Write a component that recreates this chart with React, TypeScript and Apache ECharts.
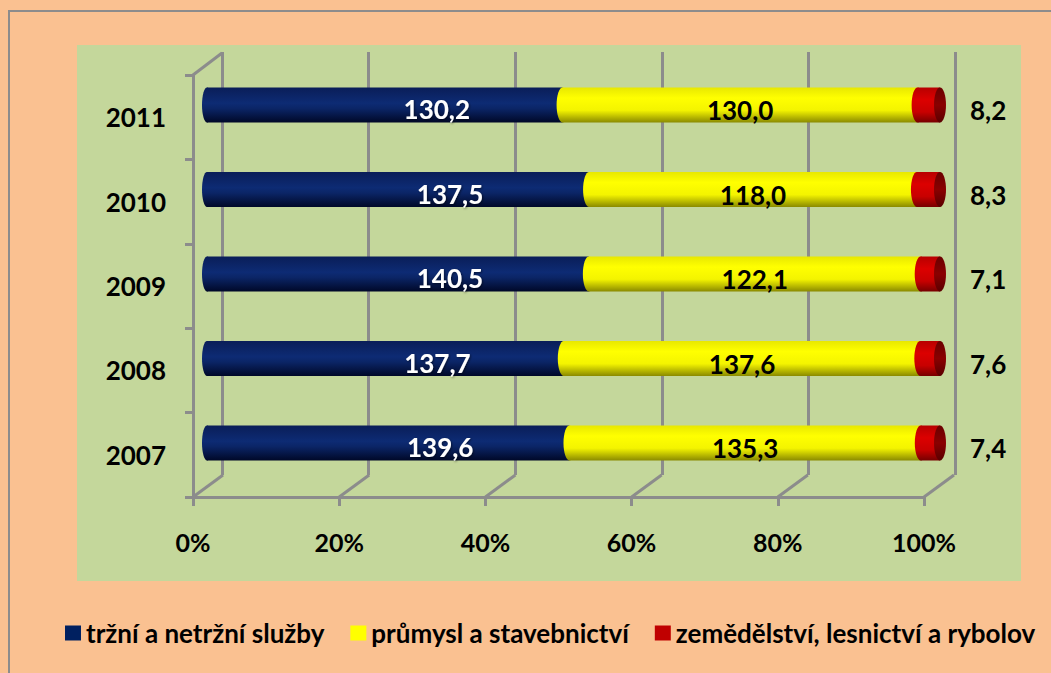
import React, { useEffect, useRef } from "react";
import * as echarts from "echarts";

const categories = ["2007", "2008", "2009", "2010", "2011"];
const services = [139.6, 137.7, 140.5, 137.5, 130.2];
const industry = [135.3, 137.6, 122.1, 118.0, 130.0];
const agriculture = [7.4, 7.6, 7.1, 8.3, 8.2];
const xTicks = [0, 20, 40, 60, 80, 100];
const seriesNames = ["tržní a netržní služby", "průmysl a stavebnictví", "zemědělství, lesnictví a rybolov"];

const totals = categories.map((_, i) => services[i] + industry[i] + agriculture[i]);
const pct = (arr: number[]) => arr.map((v, i) => (v / totals[i]) * 100);
const servicesPct = pct(services);
const industryPct = pct(industry);
const agriculturePct = pct(agriculture);

const fmt = (v: number) => v.toFixed(1).replace(".", ",");
const FONT = "Lato";
const GRID_COLOR = "#8c8c8c";

const grad = (stops: [number, string][]) =>
  new echarts.graphic.LinearGradient(0, 0, 0, 1, stops.map(([offset, color]) => ({ offset, color })));

const blueGrad = () => grad([[0, "#0a1e58"], [0.45, "#0d2b74"], [0.6, "#0b2566"], [1, "#000828"]]);
const yellowGrad = () => grad([[0, "#e8e800"], [0.3, "#ffff00"], [0.65, "#f4f400"], [1, "#8a8a00"]]);
const redGrad = () => grad([[0, "#b80000"], [0.35, "#dc0000"], [0.7, "#c80000"], [1, "#760000"]]);
const capGrad = () => grad([[0, "#6a0000"], [0.5, "#8a0000"], [1, "#5a0000"]]);

export default function App() {
  const ref = useRef<HTMLDivElement>(null);
  useEffect(() => {
    if (!ref.current) return;
    const chart = echarts.init(ref.current, undefined, { renderer: "svg" });
    const BAR_H = 35;
    const option: any = {
      animation: false,
      backgroundColor: "#fac191",
      textStyle: { fontFamily: FONT },
      color: ["#002060", "#ffff00", "#c00000"],
      graphic: [
        { type: "rect", shape: { x: 9, y: 11, width: 1060, height: 680 }, style: { fill: "none", stroke: "#8c8c8c", lineWidth: 2 }, z: 100 },
        { type: "rect", shape: { x: 77, y: 45, width: 944, height: 536 }, style: { fill: "#c4d79b" }, z: -10 },
      ],
      legend: {
        left: 60,
        top: 615,
        icon: "rect",
        itemWidth: 16,
        itemHeight: 15,
        itemGap: 26,
        textStyle: { fontFamily: FONT, fontWeight: "bold", fontSize: 26, color: "#000" },
        data: seriesNames.map((name, i) => ({
          name,
          itemStyle: { color: ["#002060", "#ffff00", "#c00000"][i] },
        })),
      },
      grid: [
        { left: 222, top: 52, width: 733, height: 423 },
        { left: 193, top: 75, width: 731, height: 422 },
        { left: 207, top: 62.75, width: 733, height: 422.5 },
      ],
      xAxis: [
        {
          gridIndex: 0, type: "value", min: 0, max: 100, interval: 20,
          axisLine: { show: false }, axisTick: { show: false }, axisLabel: { show: false },
          splitLine: { show: true, lineStyle: { color: GRID_COLOR, width: 3 } },
        },
        {
          gridIndex: 1, type: "value", min: 0, max: 100, interval: 20,
          axisLine: { show: true, lineStyle: { color: GRID_COLOR, width: 3 } },
          axisTick: { show: true, length: 9, lineStyle: { color: GRID_COLOR, width: 3 } },
          axisLabel: { formatter: "{value}%", margin: 32, fontFamily: FONT, fontWeight: "bold", fontSize: 25, color: "#000" },
          splitLine: { show: false },
        },
        {
          gridIndex: 2, type: "value", min: 0, max: 100, show: false,
        },
      ],
      yAxis: [
        { gridIndex: 0, type: "category", data: categories, show: false },
        {
          gridIndex: 1, type: "category", data: categories,
          axisLine: { show: true, lineStyle: { color: GRID_COLOR, width: 3 } },
          axisTick: { show: true, length: 8, lineStyle: { color: GRID_COLOR, width: 3 } },
          axisLabel: { margin: 27, fontFamily: FONT, fontWeight: "bold", fontSize: 26, color: "#000" },
        },
        { gridIndex: 2, type: "category", data: categories, show: false },
      ],
      series: [
        {
          type: "custom",
          xAxisIndex: 1,
          yAxisIndex: 1,
          silent: true,
          z: 1,
          data: xTicks.map((v) => [v, 0]),
          encode: { x: 0, y: 1 },
          renderItem: (params: any, api: any) => {
            const v = api.value(0);
            const p = api.coord([v, 0]);
            const cs = params.coordSys;
            const bottom = cs.y + cs.height;
            const children: any[] = [
              { type: "line", shape: { x1: p[0], y1: bottom, x2: p[0] + 30, y2: bottom - 22 }, style: { stroke: GRID_COLOR, lineWidth: 3 } },
            ];
            if (v === 0) {
              children.push({ type: "line", shape: { x1: p[0], y1: cs.y, x2: p[0] + 29, y2: cs.y - 22 }, style: { stroke: GRID_COLOR, lineWidth: 3 } });
            }
            return { type: "group", children };
          },
        },
        {
          name: seriesNames[0],
          type: "bar",
          stack: "total",
          xAxisIndex: 2,
          yAxisIndex: 2,
          barWidth: BAR_H,
          z: 3,
          itemStyle: { color: blueGrad() },
          data: servicesPct,
          label: {
            show: true,
            position: "inside",
            offset: [52, 4],
            formatter: (p: any) => fmt(services[p.dataIndex]),
            fontFamily: FONT, fontWeight: "bold", fontSize: 26, color: "#fff",
            textShadowColor: "rgba(0,0,0,0.5)", textShadowBlur: 2, textShadowOffsetX: 1, textShadowOffsetY: 1,
          },
        },
        {
          name: seriesNames[1],
          type: "bar",
          stack: "total",
          xAxisIndex: 2,
          yAxisIndex: 2,
          barWidth: BAR_H,
          z: 3,
          itemStyle: { color: yellowGrad() },
          data: industryPct,
          label: {
            show: true,
            position: "inside",
            offset: [0, 5],
            formatter: (p: any) => fmt(industry[p.dataIndex]),
            fontFamily: FONT, fontWeight: "bold", fontSize: 26, color: "#000",
          },
        },
        {
          name: seriesNames[2],
          type: "bar",
          stack: "total",
          xAxisIndex: 2,
          yAxisIndex: 2,
          barWidth: BAR_H,
          z: 3,
          itemStyle: { color: redGrad() },
          data: agriculturePct,
          label: {
            show: true,
            position: "right",
            distance: 30,
            offset: [0, 5],
            formatter: (p: any) => fmt(agriculture[p.dataIndex]),
            fontFamily: FONT, fontWeight: "bold", fontSize: 26, color: "#000",
          },
        },
        {
          type: "custom",
          xAxisIndex: 2,
          yAxisIndex: 2,
          silent: true,
          z: 4,
          data: categories.map((_, i) => [0, i]),
          encode: { x: 0, y: 1 },
          renderItem: (params: any, api: any) => {
            const i = api.value(1);
            const c0 = api.coord([0, i]);
            const c1 = api.coord([servicesPct[i], i]);
            const c2 = api.coord([servicesPct[i] + industryPct[i], i]);
            const c3 = api.coord([100, i]);
            const cy = c0[1];
            const ry = BAR_H / 2;
            return {
              type: "group",
              children: [
                { type: "ellipse", shape: { cx: c0[0], cy, rx: 5, ry }, style: { fill: blueGrad() } },
                { type: "ellipse", shape: { cx: c1[0], cy, rx: 6, ry }, style: { fill: yellowGrad() } },
                { type: "ellipse", shape: { cx: c2[0], cy, rx: 6, ry }, style: { fill: redGrad() } },
                { type: "ellipse", shape: { cx: c3[0], cy, rx: 6, ry }, style: { fill: capGrad() } },
              ],
            };
          },
        },
      ],
    };
    chart.setOption(option);
    return () => chart.dispose();
  }, []);
  return <div ref={ref} style={{ position: "absolute", left: 0, top: 0, width: 1051, height: 673 }} />;
}
